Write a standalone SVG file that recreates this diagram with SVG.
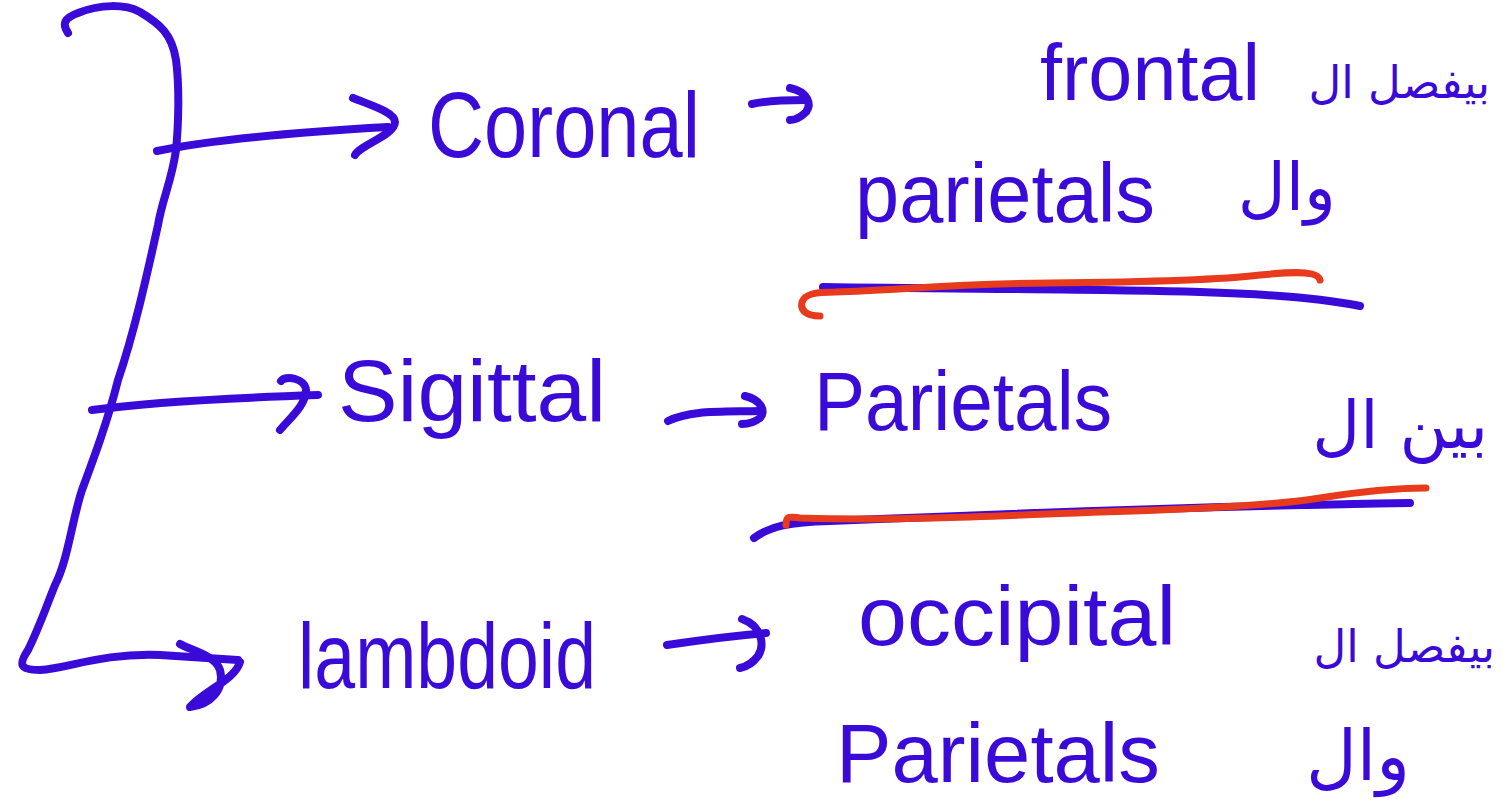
<svg xmlns="http://www.w3.org/2000/svg" width="1503" height="804" viewBox="0 0 1503 804">
<style>
.s{fill:none;stroke:#3a0ad9;stroke-width:8;stroke-linecap:round;stroke-linejoin:round}
.r{fill:none;stroke:#e83a1c;stroke-width:7;stroke-linecap:round;stroke-linejoin:round}
.t{font-family:"Liberation Sans",Arial,sans-serif;fill:#3a0ad9}
.a{font-family:"DejaVu Sans","Noto Sans",sans-serif;fill:#3a0ad9;text-anchor:end}
</style>
<rect width="1503" height="804" fill="#ffffff"/>
<g id="connectors">
<path class="s" d="M68,33 C62,24 64,18 78,13 C100,4 125,4 140,12 C160,24 172,34 176,60 C180,90 178,130 176,150 C172,180 162,200 158,225 C148,270 135,330 118,380 C108,420 95,455 82,490 C72,520 68,560 55,585 C45,610 38,630 28,650 C18,665 20,670 40,670 C70,668 100,653 160,655 L238,660"/>
<path class="s" d="M157,151 C210,140 300,132 388,127"/>
<path class="s" d="M353,98 C370,105 395,112 395,122 C395,135 360,145 355,155"/>
<path class="s" d="M92,410 C150,402 230,398 318,395"/>
<path class="s" d="M281,381 C285,375 305,378 306,390 C306,405 290,418 280,430"/>
<path class="s" d="M180,644 C190,650 215,655 220,670 C225,690 210,705 190,707 C205,690 235,680 240,662"/>
<path class="s" d="M752,104 C770,100 790,100 806,100"/>
<path class="s" d="M790,88 C808,92 812,104 806,112 C800,118 795,120 790,120"/>
<path class="s" d="M668,421 C690,410 720,412 760,411"/>
<path class="s" d="M745,396 C762,400 766,412 760,418 C755,422 748,424 742,424"/>
<path class="s" d="M667,645 C700,640 730,636 766,633"/>
<path class="s" d="M742,619 C762,626 765,645 758,656 C752,664 745,667 740,668"/>
</g>
<g id="underline-top">
<path class="s" d="M823,287 C950,289 1100,289 1200,292 C1270,294 1320,298 1360,306" stroke-width="6"/>
<path class="r" d="M820,316 C806,316 800,310 802,302 C805,294 815,292 835,292 C900,290 950,284 1050,283 C1150,282 1220,280 1260,275 C1290,272 1318,270 1320,280"/>
</g>
<g id="underline-middle">
<path class="s" d="M754,538 C770,526 790,522 830,521 C1000,514 1200,506 1410,503" stroke-width="6"/>
<path class="r" d="M786,525 C786,515 790,517 800,518 C900,521 1000,516 1100,512 C1200,509 1280,505 1320,498 C1370,490 1400,488 1426,488"/>
</g>
<g id="node-coronal"><text class="t" x="428" y="157" font-size="92" textLength="272" lengthAdjust="spacingAndGlyphs">Coronal</text></g>
<g id="node-sigittal"><text class="t" x="338" y="421" font-size="88" textLength="268" lengthAdjust="spacingAndGlyphs">Sigittal</text></g>
<g id="node-lambdoid"><text class="t" x="298" y="688" font-size="92" textLength="298" lengthAdjust="spacingAndGlyphs">lambdoid</text></g>
<g id="node-frontal"><text class="t" x="1040" y="100" font-size="80" textLength="220" lengthAdjust="spacingAndGlyphs">frontal</text>
<text class="a" x="1490" y="98" font-size="45">بيفصل ال</text></g>
<g id="node-parietals-1"><text class="t" x="855" y="222" font-size="84" textLength="300" lengthAdjust="spacingAndGlyphs">parietals</text>
<text class="a" x="1336" y="210" font-size="66">وال</text></g>
<g id="node-parietals-2"><text class="t" x="814" y="430" font-size="84" textLength="298" lengthAdjust="spacingAndGlyphs">Parietals</text>
<text class="a" x="1488" y="448" font-size="66">بين ال</text></g>
<g id="node-occipital"><text class="t" x="858" y="645" font-size="84" textLength="318" lengthAdjust="spacingAndGlyphs">occipital</text>
<text class="a" x="1495" y="662" font-size="45">بيفصل ال</text></g>
<g id="node-parietals-3"><text class="t" x="836" y="782" font-size="84" textLength="324" lengthAdjust="spacingAndGlyphs">Parietals</text>
<text class="a" x="1410" y="780" font-size="70">وال</text></g>
</svg>
